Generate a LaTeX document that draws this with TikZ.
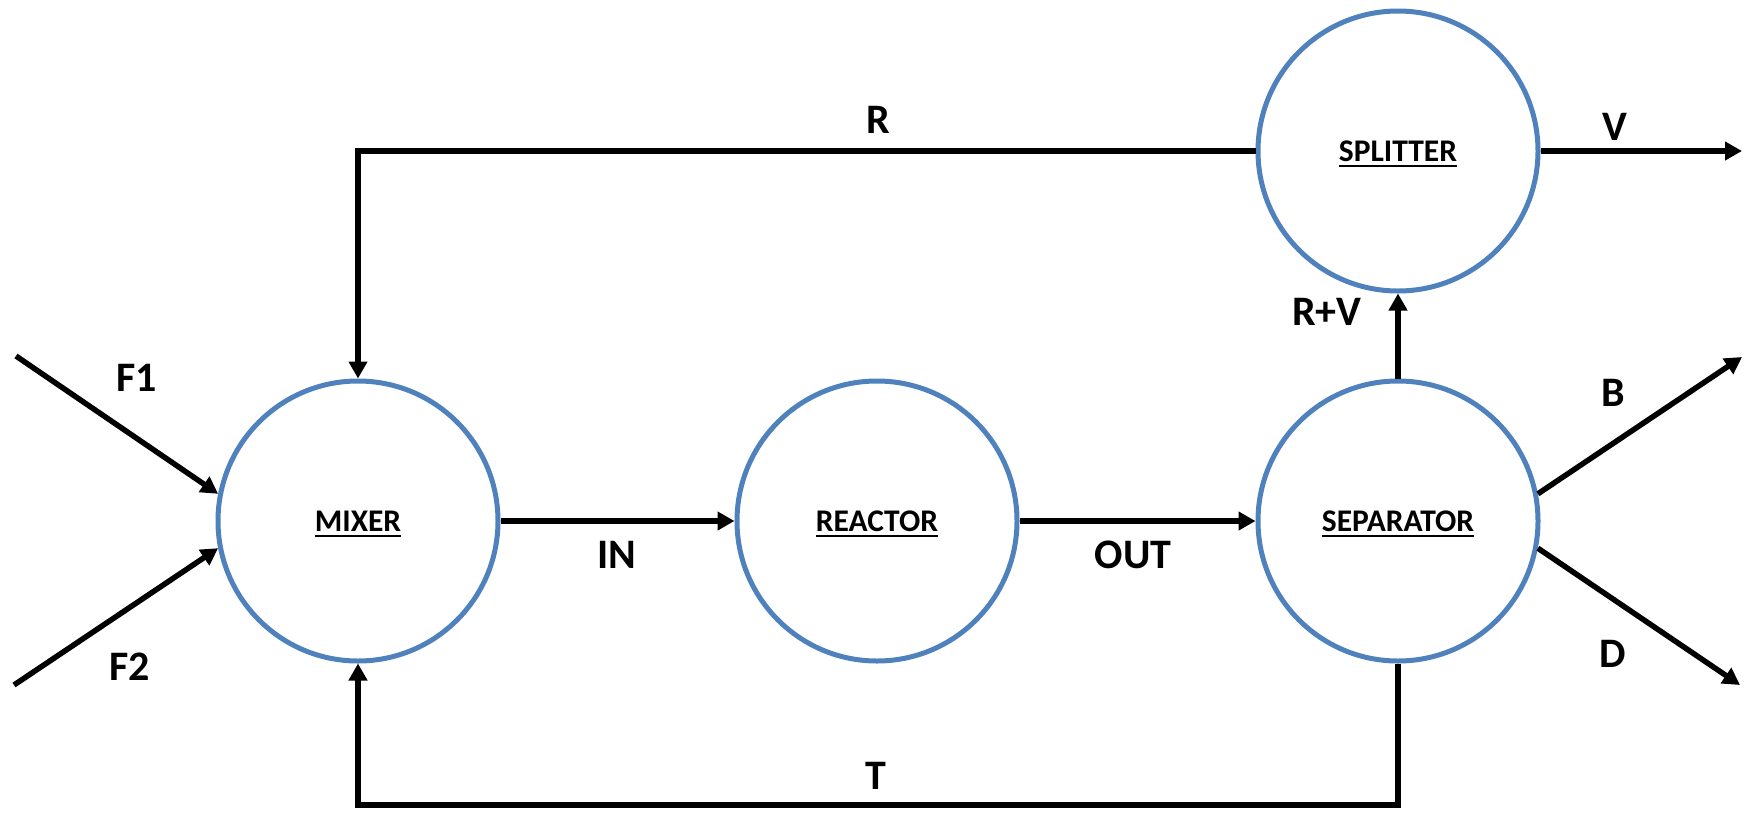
\documentclass[tikz,border=0pt]{standalone}
\usepackage{fontspec}
\setmainfont{Carlito}
\usetikzlibrary{arrows.meta}
\definecolor{unitblue}{HTML}{4F81BD}
\newcommand{\myul}[1]{\setbox0\hbox{#1}\rlap{\rule[-5.5pt]{\wd0}{1.5pt}}\box0}
\tikzset{
  unit/.style={circle,draw=unitblue,line width=5pt,minimum size=280pt,inner sep=0pt},
  unitname/.style={anchor=base,font=\fontsize{31.5}{36}\selectfont\bfseries,inner sep=0pt},
  flow/.style={line width=5.5pt,-{Triangle[length=17pt,width=18pt]}},
  stream/.style={font=\fontsize{42}{48}\selectfont\bfseries,inner sep=0pt}
}
\begin{document}
\begin{tikzpicture}[x=1pt,y=-1pt]
\useasboundingbox (0,0) rectangle (1749,815);
\node[unit] (mixer) at (358,521) {};
\node[unit] (reactor) at (877,521) {};
\node[unit] (separator) at (1398,521) {};
\node[unit] (splitter) at (1398,151) {};
\node[unitname] (mixerlbl) at (358,531) {\myul{MIXER}};
\node[unitname] (reactorlbl) at (877,531) {\myul{REACTOR}};
\node[unitname] (separatorlbl) at (1398,531) {\myul{SEPARATOR}};
\node[unitname] (splitterlbl) at (1398,161) {\myul{SPLITTER}};
\coordinate (f1s) at (16,356);
\coordinate (f2s) at (14,685);
\coordinate (vend) at (1742,151);
\coordinate (bend) at (1742,357);
\coordinate (dend) at (1740,685);
\coordinate (tc) at (1398,805);
\draw[flow] (f1s) -- (mixer.169);
\draw[flow] (f2s) -- (mixer.191);
\draw[flow] (mixer.east) -- (reactor.west);
\draw[flow] (reactor.east) -- (separator.west);
\draw[flow] (separator.north) -- (splitter.south);
\draw[flow] (splitter.east) -- (vend);
\draw[flow] (separator.11) -- (bend);
\draw[flow] (separator.-11) -- (dend);
\draw[flow] (splitter.west) -| (mixer.north);
\draw[flow] (separator.south) -- (tc) -| (mixer.south);
\node[stream] (lf1) at (137,378) {F1};
\node[stream] (lf2) at (130,667) {F2};
\node[stream] (lin) at (617,555) {IN};
\node[stream] (lout) at (1133,555) {OUT};
\node[stream] (lr) at (878,120) {R};
\node[stream] (lv) at (1615,127) {V};
\node[stream] (lrv) at (1327,312) {R+V};
\node[stream] (lb) at (1613,393) {B};
\node[stream] (ld) at (1613,654) {D};
\node[stream] (lt) at (876,776) {T};
\end{tikzpicture}
\end{document}
